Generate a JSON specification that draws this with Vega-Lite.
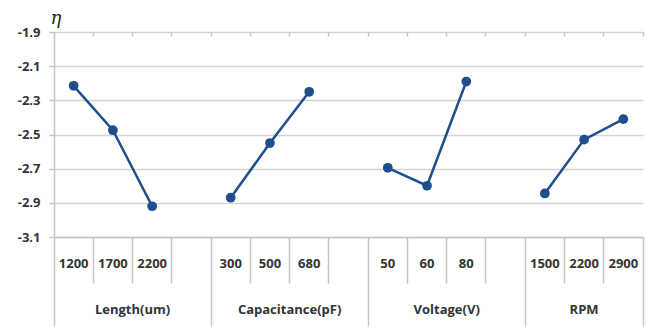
{
  "$schema": "https://vega.github.io/schema/vega-lite/v6.json",
  "width": 589,
  "height": 205,
  "autosize": {"type": "none"},
  "padding": {"left": 54, "top": 32, "right": 3, "bottom": 90},
  "background": "white",
  "config": {
    "view": {"stroke": null},
    "axis": {
      "labelFont": "Open Sans",
      "labelFontWeight": "bold",
      "labelFontSize": 13,
      "labelColor": "#333333",
      "domainColor": "#c4c4c4",
      "tickColor": "#c4c4c4",
      "gridColor": "#d4d4d4"
    }
  },
  "datasets": {
    "pts": [
      {"group": "Length(um)", "slot": "Length(um)|1200", "eta": -2.215},
      {"group": "Length(um)", "slot": "Length(um)|1700", "eta": -2.475},
      {"group": "Length(um)", "slot": "Length(um)|2200", "eta": -2.92},
      {"group": "Capacitance(pF)", "slot": "Capacitance(pF)|300", "eta": -2.87},
      {"group": "Capacitance(pF)", "slot": "Capacitance(pF)|500", "eta": -2.55},
      {"group": "Capacitance(pF)", "slot": "Capacitance(pF)|680", "eta": -2.25},
      {"group": "Voltage(V)", "slot": "Voltage(V)|50", "eta": -2.695},
      {"group": "Voltage(V)", "slot": "Voltage(V)|60", "eta": -2.8},
      {"group": "Voltage(V)", "slot": "Voltage(V)|80", "eta": -2.19},
      {"group": "RPM", "slot": "RPM|1500", "eta": -2.845},
      {"group": "RPM", "slot": "RPM|2200", "eta": -2.53},
      {"group": "RPM", "slot": "RPM|2900", "eta": -2.41}
    ],
    "groups": [
      {"group": "Length(um)", "anchor": "Length(um)|2200", "n": 4},
      {"group": "Capacitance(pF)", "anchor": "Capacitance(pF)|680", "n": 4},
      {"group": "Voltage(V)", "anchor": "Voltage(V)|80", "n": 4},
      {"group": "RPM", "anchor": "RPM|2200", "n": 3}
    ]
  },
  "layer": [
    {
      "data": {"name": "pts"},
      "mark": {"type": "line", "color": "#1f4e8c", "strokeWidth": 2.5},
      "encoding": {
        "x": {
          "field": "slot", "type": "nominal",
          "scale": {"type": "band", "paddingInner": 0, "paddingOuter": 0,
            "domain": ["Length(um)|1200","Length(um)|1700","Length(um)|2200","Length(um)|","Capacitance(pF)|300","Capacitance(pF)|500","Capacitance(pF)|680","Capacitance(pF)|","Voltage(V)|50","Voltage(V)|60","Voltage(V)|80","Voltage(V)|","RPM|1500","RPM|2200","RPM|2900"]},
          "axis": {"orient": "bottom", "title": null, "labelExpr": "split(datum.value, '|')[1]", "labelAngle": 0, "ticks": false, "grid": false, "domain": true, "domainWidth": 1.5, "labelBaseline": "middle", "labelPadding": 26}
        },
        "y": {
          "field": "eta", "type": "quantitative",
          "scale": {"domain": [-3.1, -1.9], "nice": false, "zero": false},
          "axis": {"title": "η", "orient": "left", "values": [-3.1, -2.9, -2.7, -2.5, -2.3, -2.1, -1.9], "labelExpr": "toString(datum.value)", "labelFontWeight": "bold", "labelFont": "Open Sans", "labelFontSize": 13, "labelColor": "#333333", "grid": true, "gridWidth": 1.5, "tickSize": 5, "tickWidth": 1.5, "domainWidth": 1.5, "labelPadding": 9, "titleAngle": 0, "titleAlign": "left", "titleBaseline": "alphabetic", "titleX": -4, "titleY": -9, "titleFont": "DejaVu Serif", "titleFontStyle": "italic", "titleFontWeight": "normal", "titleFontSize": 18, "titleColor": "#222222"}
        },
        "detail": {"field": "group"}
      }
    },
    {
      "data": {"name": "pts"},
      "mark": {"type": "point", "filled": true, "opacity": 1, "color": "#1f4e8c", "size": 95},
      "encoding": {
        "x": {
          "field": "slot", "type": "nominal",
          "scale": {"type": "band", "paddingInner": 0, "paddingOuter": 0,
            "domain": ["Length(um)|1200","Length(um)|1700","Length(um)|2200","Length(um)|","Capacitance(pF)|300","Capacitance(pF)|500","Capacitance(pF)|680","Capacitance(pF)|","Voltage(V)|50","Voltage(V)|60","Voltage(V)|80","Voltage(V)|","RPM|1500","RPM|2200","RPM|2900"]},
          "axis": {"orient": "bottom", "title": null, "labels": false, "domain": false, "grid": false, "ticks": true, "bandPosition": 1, "tickWidth": 1.5,
            "tickSize": {"condition": {"test": "indexof(['Length(um)|','Capacitance(pF)|','Voltage(V)|','RPM|2900'], datum.value) >= 0", "value": 89}, "value": 46}}
        },
        "y": {"field": "eta", "type": "quantitative", "axis": {"title": "η", "orient": "left", "values": [-3.1, -2.9, -2.7, -2.5, -2.3, -2.1, -1.9], "labelExpr": "toString(datum.value)", "labelFontWeight": "bold", "labelFont": "Open Sans", "labelFontSize": 13, "labelColor": "#333333", "grid": true, "gridWidth": 1.5, "tickSize": 5, "tickWidth": 1.5, "domainWidth": 1.5, "labelPadding": 9, "titleAngle": 0, "titleAlign": "left", "titleBaseline": "alphabetic", "titleX": -4, "titleY": -9, "titleFont": "DejaVu Serif", "titleFontStyle": "italic", "titleFontWeight": "normal", "titleFontSize": 18, "titleColor": "#222222"}}
      }
    },
    {
      "data": {"name": "groups"},
      "transform": [{"filter": "datum.n == 4"}],
      "mark": {"type": "text", "font": "Open Sans", "fontWeight": "bold", "fontSize": 13, "color": "#333333", "baseline": "middle", "align": "center", "dy": 73},
      "encoding": {
        "x": {
          "field": "anchor", "type": "nominal", "bandPosition": 0,
          "scale": {"type": "band", "paddingInner": 0, "paddingOuter": 0,
            "domain": ["Length(um)|1200","Length(um)|1700","Length(um)|2200","Length(um)|","Capacitance(pF)|300","Capacitance(pF)|500","Capacitance(pF)|680","Capacitance(pF)|","Voltage(V)|50","Voltage(V)|60","Voltage(V)|80","Voltage(V)|","RPM|1500","RPM|2200","RPM|2900"]},
          "axis": {"orient": "bottom", "title": null, "labels": false, "domain": false, "grid": false, "ticks": true, "bandPosition": 0, "tickWidth": 1.5, "tickSize": 89, "values": ["Length(um)|1200"]}
        },
        "y": {"datum": -3.1, "type": "quantitative", "axis": {"title": "η", "orient": "left", "values": [-3.1, -2.9, -2.7, -2.5, -2.3, -2.1, -1.9], "labelExpr": "toString(datum.value)", "labelFontWeight": "bold", "labelFont": "Open Sans", "labelFontSize": 13, "labelColor": "#333333", "grid": true, "gridWidth": 1.5, "tickSize": 5, "tickWidth": 1.5, "domainWidth": 1.5, "labelPadding": 9, "titleAngle": 0, "titleAlign": "left", "titleBaseline": "alphabetic", "titleX": -4, "titleY": -9, "titleFont": "DejaVu Serif", "titleFontStyle": "italic", "titleFontWeight": "normal", "titleFontSize": 18, "titleColor": "#222222"}},
        "text": {"field": "group"}
      }
    },
    {
      "data": {"name": "groups"},
      "transform": [{"filter": "datum.n == 3"}],
      "mark": {"type": "text", "font": "Open Sans", "fontWeight": "bold", "fontSize": 13, "color": "#333333", "baseline": "middle", "align": "center", "dy": 73},
      "encoding": {
        "x": {
          "field": "anchor", "type": "nominal", "bandPosition": 0.5,
          "scale": {"type": "band", "paddingInner": 0, "paddingOuter": 0,
            "domain": ["Length(um)|1200","Length(um)|1700","Length(um)|2200","Length(um)|","Capacitance(pF)|300","Capacitance(pF)|500","Capacitance(pF)|680","Capacitance(pF)|","Voltage(V)|50","Voltage(V)|60","Voltage(V)|80","Voltage(V)|","RPM|1500","RPM|2200","RPM|2900"]},
          "axis": {"orient": "top", "title": null, "labels": false, "domain": false, "grid": false, "ticks": true, "bandPosition": 1, "tickWidth": 1.5, "tickSize": -4}
        },
        "y": {"datum": -3.1, "type": "quantitative", "axis": {"title": "η", "orient": "left", "values": [-3.1, -2.9, -2.7, -2.5, -2.3, -2.1, -1.9], "labelExpr": "toString(datum.value)", "labelFontWeight": "bold", "labelFont": "Open Sans", "labelFontSize": 13, "labelColor": "#333333", "grid": true, "gridWidth": 1.5, "tickSize": 5, "tickWidth": 1.5, "domainWidth": 1.5, "labelPadding": 9, "titleAngle": 0, "titleAlign": "left", "titleBaseline": "alphabetic", "titleX": -4, "titleY": -9, "titleFont": "DejaVu Serif", "titleFontStyle": "italic", "titleFontWeight": "normal", "titleFontSize": 18, "titleColor": "#222222"}},
        "text": {"field": "group"}
      }
    }
  ],
  "resolve": {"axis": {"x": "independent", "y": "shared"}}
}
